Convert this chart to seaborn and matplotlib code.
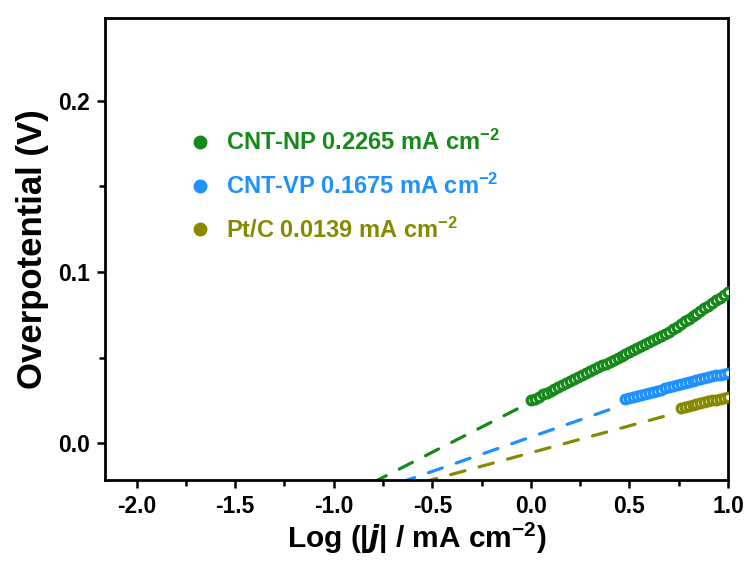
import matplotlib
matplotlib.use("Agg")
import matplotlib.pyplot as plt
from matplotlib.lines import Line2D
import seaborn as sns
import pandas as pd

sns.set_theme(style="white")
plt.rcParams['font.family'] = ['Liberation Sans', 'DejaVu Sans']
plt.rcParams['font.weight'] = 'bold'
plt.rcParams['mathtext.default'] = 'regular'
for k in ['text.color', 'axes.labelcolor', 'xtick.color', 'ytick.color', 'axes.edgecolor']:
    plt.rcParams[k] = 'black'

series_names = ["CNT-NP", "CNT-VP", "Pt/C"]
exchange_labels = ["CNT-NP 0.2265 mA cm$^{-2}$", "CNT-VP 0.1675 mA cm$^{-2}$", "Pt/C 0.0139 mA cm$^{-2}$"]
colors = ["#16891a", "#1e90ff", "#858a00"]

np_x = [0.00, 0.02, 0.04, 0.06, 0.08, 0.10, 0.12, 0.14, 0.16, 0.18,
        0.20, 0.22, 0.24, 0.26, 0.28, 0.30, 0.32, 0.34, 0.36, 0.38,
        0.40, 0.42, 0.44, 0.46, 0.48, 0.50, 0.52, 0.54, 0.56, 0.58,
        0.60, 0.62, 0.64, 0.66, 0.68, 0.70, 0.72, 0.74, 0.76, 0.78,
        0.80, 0.82, 0.84, 0.86, 0.88, 0.90, 0.92, 0.94, 0.96, 0.98, 1.00]
np_y = [0.0250, 0.0260, 0.0272, 0.0284, 0.0295, 0.0306, 0.0318, 0.0329, 0.0341, 0.0352,
        0.0364, 0.0375, 0.0386, 0.0397, 0.0409, 0.0420, 0.0431, 0.0442, 0.0454, 0.0465,
        0.0476, 0.0487, 0.0498, 0.0510, 0.0521, 0.0532, 0.0544, 0.0555, 0.0567, 0.0578,
        0.0590, 0.0602, 0.0614, 0.0627, 0.0639, 0.0652, 0.0666, 0.0681, 0.0696, 0.0711,
        0.0726, 0.0741, 0.0756, 0.0772, 0.0787, 0.0803, 0.0818, 0.0834, 0.0850, 0.0866, 0.0882]

vp_x = [0.48, 0.50, 0.52, 0.54, 0.56, 0.58, 0.60, 0.62, 0.64, 0.66, 0.68, 0.70, 0.72, 0.74,
        0.76, 0.78, 0.80, 0.82, 0.84, 0.86, 0.88, 0.90, 0.92, 0.94, 0.96, 0.98, 1.00]
vp_y = [0.0255, 0.0263, 0.0270, 0.0277, 0.0283, 0.0289, 0.0295, 0.0301, 0.0307, 0.0313,
        0.0319, 0.0325, 0.0331, 0.0337, 0.0343, 0.0349, 0.0355, 0.0361, 0.0367, 0.0373,
        0.0379, 0.0384, 0.0390, 0.0395, 0.0400, 0.0405, 0.0410]

pt_x = [0.76, 0.78, 0.80, 0.82, 0.84, 0.86, 0.88, 0.90, 0.92, 0.94, 0.96, 0.98, 1.00]
pt_y = [0.0205, 0.0212, 0.0218, 0.0224, 0.0229, 0.0234, 0.0239, 0.0244, 0.0249, 0.0254,
        0.0259, 0.0264, 0.0268]

# Tafel fit extrapolation endpoints
np_fit_x = [-0.80, 0.00]
np_fit_y = [-0.0230, 0.0240]
vp_fit_x = [-0.66, 0.46]
vp_fit_y = [-0.0230, 0.0220]
pt_fit_x = [-0.55, 0.72]
pt_fit_y = [-0.0230, 0.0170]

xticks = [-2.0, -1.5, -1.0, -0.5, 0.0, 0.5, 1.0]
yticks = [0.0, 0.1, 0.2]

data = [(np_x, np_y), (vp_x, vp_y), (pt_x, pt_y)]
fits = [(np_fit_x, np_fit_y), (vp_fit_x, vp_fit_y), (pt_fit_x, pt_fit_y)]

fig = plt.figure(figsize=(7.53, 5.61), dpi=100)
ax = fig.add_axes([0.1394, 0.1444, 0.8274, 0.8235])

for (fx, fy), c in zip(fits, colors):
    df = pd.DataFrame({"x": fx, "y": fy})
    sns.lineplot(data=df, x="x", y="y", ax=ax, color=c, linewidth=2.3,
                 linestyle=(0, (4.6, 4.6)), dash_capstyle='round', legend=False)

for (dx, dy), c in zip(data, colors):
    df = pd.DataFrame({"x": dx, "y": dy})
    sns.scatterplot(data=df, x="x", y="y", ax=ax, marker="o", s=38,
                    facecolor="#f4fbf4", edgecolor=c, linewidth=2.4, legend=False, zorder=3)

ax.set_xlim(-2.16, 1.0)
ax.set_ylim(-0.0216, 0.2485)
ax.set_xticks(xticks)
ax.set_xticklabels([f"{v:.1f}" for v in xticks])
ax.set_yticks(yticks)
ax.set_yticklabels([f"{v:.1f}" for v in yticks])
ax.set_xticks([-1.75, -1.25, -0.75, -0.25, 0.25, 0.75], minor=True)
ax.set_yticks([0.05, 0.15], minor=True)
ax.tick_params(axis='both', which='major', direction='out', length=6, width=1.8,
               labelsize=16.5, bottom=True, left=True, top=False, right=False, pad=5)
ax.tick_params(axis='both', which='minor', direction='out', length=4, width=1.8,
               bottom=True, left=True, top=False, right=False)
for lab in ax.get_xticklabels() + ax.get_yticklabels():
    lab.set_fontweight('bold')
for sp in ax.spines.values():
    sp.set_linewidth(2.0)
    sp.set_color('black')

ax.set_xlabel(r"Log (|$\it{j}$| / mA cm$^{-2}$)", fontsize=21.5, fontweight='bold', labelpad=2)
ax.set_ylabel("Overpotential (V)", fontsize=25, fontweight='bold', labelpad=6)

handles = [Line2D([0], [0], marker='o', linestyle='none', markersize=9,
                  markerfacecolor=c, markeredgecolor=c) for c in colors]
leg = ax.legend(handles, exchange_labels, loc='center left', bbox_to_anchor=(0.0957, 0.636),
                frameon=False, labelcolor=colors, prop={'size': 17, 'weight': 'bold'},
                handletextpad=0.5, labelspacing=0.79, handlelength=1.2)

fig.savefig("out.png", dpi=100, facecolor='white')
